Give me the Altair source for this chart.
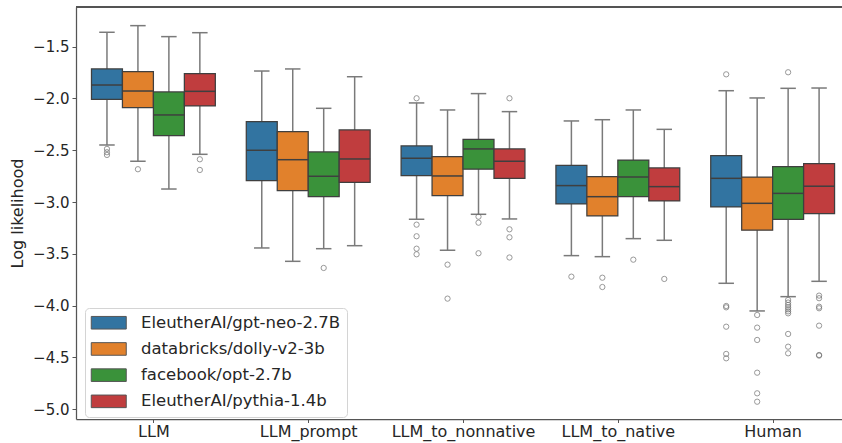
import json
import altair as alt
import pandas as pd

# Categories on the x axis and the four language models (hue)
categories = ["LLM", "LLM_prompt", "LLM_to_nonnative", "LLM_to_native", "Human"]
models = ["EleutherAI/gpt-neo-2.7B", "databricks/dolly-v2-3b",
          "facebook/opt-2.7b", "EleutherAI/pythia-1.4b"]
colors = ["#3274a1", "#e1812c", "#3a923a", "#c03d3e"]

# Box statistics per model, one value per category (same order as categories)
whisker_low = {
    "EleutherAI/gpt-neo-2.7B": [-2.449, -3.443, -3.166, -3.517, -3.784],
    "databricks/dolly-v2-3b":  [-2.606, -3.572, -3.465, -3.527, -4.051],
    "facebook/opt-2.7b":       [-2.874, -3.450, -3.118, -3.353, -3.913],
    "EleutherAI/pythia-1.4b":  [-2.539, -3.421, -3.163, -3.369, -3.765],
}
q1 = {
    "EleutherAI/gpt-neo-2.7B": [-2.008, -2.793, -2.745, -3.018, -3.047],
    "databricks/dolly-v2-3b":  [-2.089, -2.890, -2.938, -3.134, -3.272],
    "facebook/opt-2.7b":       [-2.359, -2.948, -2.683, -2.948, -3.166],
    "EleutherAI/pythia-1.4b":  [-2.072, -2.809, -2.771, -2.989, -3.112],
}
median = {
    "EleutherAI/gpt-neo-2.7B": [-1.870, -2.500, -2.577, -2.841, -2.771],
    "databricks/dolly-v2-3b":  [-1.928, -2.591, -2.748, -2.948, -3.012],
    "facebook/opt-2.7b":       [-2.159, -2.751, -2.487, -2.758, -2.916],
    "EleutherAI/pythia-1.4b":  [-1.931, -2.584, -2.606, -2.851, -2.847],
}
q3 = {
    "EleutherAI/gpt-neo-2.7B": [-1.715, -2.224, -2.458, -2.645, -2.552],
    "databricks/dolly-v2-3b":  [-1.741, -2.320, -2.562, -2.755, -2.758],
    "facebook/opt-2.7b":       [-1.937, -2.516, -2.394, -2.594, -2.658],
    "EleutherAI/pythia-1.4b":  [-1.761, -2.304, -2.487, -2.671, -2.629],
}
whisker_high = {
    "EleutherAI/gpt-neo-2.7B": [-1.361, -1.735, -2.043, -2.217, -1.925],
    "databricks/dolly-v2-3b":  [-1.297, -1.715, -2.111, -2.205, -1.995],
    "facebook/opt-2.7b":       [-1.403, -2.095, -1.953, -2.111, -1.902],
    "EleutherAI/pythia-1.4b":  [-1.365, -1.790, -2.127, -2.298, -1.899],
}

# Outlying points per model, one list per category
outliers = {
    "EleutherAI/gpt-neo-2.7B": [
        [-2.487, -2.519, -2.545],
        [],
        [-1.998, -3.218, -3.330, -3.450, -3.504],
        [-3.720],
        [-1.767, -4.003, -4.016, -4.203, -4.466, -4.508],
    ],
    "databricks/dolly-v2-3b": [
        [-2.683],
        [],
        [-3.604, -3.932],
        [-3.730, -3.820],
        [-4.090, -4.212, -4.331, -4.647, -4.846, -4.927],
    ],
    "facebook/opt-2.7b": [
        [],
        [-3.636],
        [-3.141, -3.199, -3.494],
        [-3.556],
        [-1.747, -3.945, -3.970, -3.993, -4.015, -4.035, -4.055, -4.074,
         -4.273, -4.396, -4.460],
    ],
    "EleutherAI/pythia-1.4b": [
        [-2.587, -2.690],
        [],
        [-1.998, -3.263, -3.340, -3.535],
        [-3.742],
        [-3.903, -3.928, -4.010, -4.025, -4.193, -4.476, -4.482],
    ],
}

# Dodged layout: each category occupies 0.8 of its slot, split among the hues
GROUP_WIDTH = 0.8
n_hue = len(models)
box_w = GROUP_WIDTH / n_hue

box_rows, out_rows = [], []
for ci, cat in enumerate(categories):
    for hi, m in enumerate(models):
        pos = ci + (hi - (n_hue - 1) / 2) * box_w
        box_rows.append({
            "category": cat, "model": m, "pos": pos,
            "left": pos - box_w / 2, "right": pos + box_w / 2,
            "cap_l": pos - box_w / 4, "cap_r": pos + box_w / 4,
            "lo": whisker_low[m][ci], "q1": q1[m][ci], "med": median[m][ci],
            "q3": q3[m][ci], "hi": whisker_high[m][ci],
        })
        for v in outliers[m][ci]:
            out_rows.append({"category": cat, "model": m, "pos": pos, "value": v})

boxes = pd.DataFrame(box_rows)
points = pd.DataFrame(out_rows)

EDGE = "#3f3f3f"
WHISK = "#7a7a7a"
SPINE = "#555555"
TEXT = "#262626"
FONT = "DejaVu Sans"

label_expr = f"{json.dumps(categories)}[datum.value]"
x_scale = alt.Scale(domain=[-0.5, 4.448], nice=False, zero=False)
y_scale = alt.Scale(domain=[-5.094, -1.117], nice=False, zero=False)

x_axis = alt.Axis(values=list(range(len(categories))), labelExpr=label_expr,
                  title=None, grid=False, tickSize=3.5, labelPadding=1,
                  labelFont=FONT, labelFontSize=16, labelColor=TEXT,
                  domainColor=SPINE, domainWidth=1.25, tickColor=SPINE)
y_axis = alt.Axis(values=[-5.0, -4.5, -4.0, -3.5, -3.0, -2.5, -2.0, -1.5],
                  format=".1f", title="Log likelihood", grid=False, tickSize=4,
                  labelPadding=3, titleX=-51,
                  labelFont=FONT, labelFontSize=15, labelColor=TEXT,
                  titleFont=FONT, titleFontSize=16, titleFontWeight="normal",
                  titleColor=TEXT,
                  domainColor=SPINE, domainWidth=1.25, tickColor=SPINE)

base = alt.Chart(boxes)

whiskers = base.mark_rule(color=WHISK, strokeWidth=1.5).encode(
    x=alt.X("pos:Q", scale=x_scale, axis=x_axis),
    y=alt.Y("lo:Q", scale=y_scale, axis=y_axis),
    y2="hi:Q",
)

caps_low = base.mark_rule(color=WHISK, strokeWidth=1.5).encode(
    x="cap_l:Q", x2="cap_r:Q", y="lo:Q")
caps_high = base.mark_rule(color=WHISK, strokeWidth=1.5).encode(
    x="cap_l:Q", x2="cap_r:Q", y="hi:Q")

legend = alt.Legend(
    title=None, orient="none", legendX=9, legendY=301,
    symbolType="M-2.5,-0.9L2.5,-0.9L2.5,0.9L-2.5,0.9Z", symbolSize=196,
    symbolStrokeColor="#555555", symbolStrokeWidth=1, symbolOpacity=1,
    symbolOffset=9, labelOffset=24, rowPadding=8.2, padding=6.5,
    labelFontSize=16.5, labelFont=FONT, labelColor=TEXT, labelLimit=400,
    fillColor="rgba(255,255,255,0.8)", strokeColor="#d4d4d4", cornerRadius=4,
)

rects = base.mark_rect(stroke=EDGE, strokeWidth=1.25, opacity=1).encode(
    x="left:Q", x2="right:Q", y="q1:Q", y2="q3:Q",
    color=alt.Color("model:N", scale=alt.Scale(domain=models, range=colors),
                    legend=legend),
)

medians = base.mark_rule(color=EDGE, strokeWidth=1.5).encode(
    x="left:Q", x2="right:Q", y="med:Q")

fliers = alt.Chart(points).mark_point(
    shape="circle", filled=False, size=28, strokeWidth=1, color="#6e6e6e"
).encode(x="pos:Q", y="value:Q")

top_spine = alt.Chart(boxes).mark_rule(color=SPINE, strokeWidth=1.25).encode(
    x=alt.value(0), x2=alt.value(766), y=alt.value(0))

chart = alt.layer(whiskers, caps_low, caps_high, rects, medians, fliers, top_spine).properties(
    width=766, height=412,
    background="white",
    autosize=alt.AutoSizeParams(type="none"),
    padding={"left": 76, "top": 7, "right": 0, "bottom": 24},
).configure_view(stroke=None)

chart.save("out.html", embed_options={"renderer": "svg", "actions": False})
